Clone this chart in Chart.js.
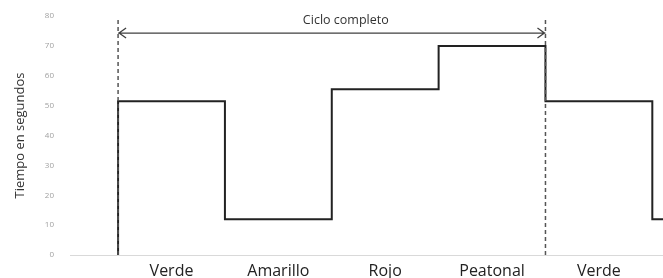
<!DOCTYPE html>
<html>
<head>
<meta charset="utf-8">
<script src="https://cdn.jsdelivr.net/npm/chart.js@4/dist/chart.umd.min.js"></script>
<style>
  html, body { margin: 0; padding: 0; background: #fff; }
  #wrap { width: 663px; height: 278px; }
</style>
</head>
<body>
<div id="wrap"><canvas id="ctx"></canvas></div>
<script>
// fases del ciclo y tiempo de cada una (s)
const phases = ["Verde", "Amarillo", "Rojo", "Peatonal", "Verde"];
const times = [51.5, 12, 55.5, 70, 51.5];
const nextTime = 12; // fase siguiente (Amarillo), cortada en el borde
const yTicks = [0, 10, 20, 30, 40, 50, 60, 70, 80];

// posiciones del ciclo en el eje x (índice de fase)
const cycleStart = 0;
const cycleEnd = 4;
const xMin = -0.45;
const xMax = 5.1;
const arrowLevel = 74.3;
const dashTop = 79.5;

const stepData = [{ x: 0, y: 0 }];
times.forEach((t, i) => stepData.push({ x: i, y: t }));
stepData.push({ x: times.length, y: nextTime });
stepData.push({ x: xMax, y: nextTime });

const FONT = "'Open Sans', Lato, sans-serif";

const cyclePlugin = {
  id: "cycle",
  afterDatasetsDraw(chart) {
    const { ctx, scales } = chart;
    const x0 = scales.x.getPixelForValue(cycleStart);
    const x1 = scales.x.getPixelForValue(cycleEnd);
    const y = scales.y.getPixelForValue(arrowLevel);
    ctx.save();
    ctx.strokeStyle = "#404040";
    ctx.lineWidth = 1.3;
    ctx.beginPath();
    ctx.moveTo(x0, y);
    ctx.lineTo(x1, y);
    // puntas
    ctx.moveTo(x0 + 8, y - 5);
    ctx.lineTo(x0 + 1, y);
    ctx.lineTo(x0 + 8, y + 5);
    ctx.moveTo(x1 - 8, y - 5);
    ctx.lineTo(x1 - 1, y);
    ctx.lineTo(x1 - 8, y + 5);
    ctx.stroke();
    ctx.fillStyle = "#333";
    ctx.font = "12.5px " + FONT;
    ctx.textAlign = "center";
    ctx.textBaseline = "middle";
    ctx.fillText("Ciclo completo", (x0 + x1) / 2 + 14, y - 13);
    ctx.restore();
  },
};

const dashed = (xv) => ({
  data: [{ x: xv, y: 0 }, { x: xv, y: dashTop }],
  borderColor: "#555",
  borderWidth: 1.5,
  borderDash: [4, 3],
  pointRadius: 0,
  fill: false,
});

new Chart(document.getElementById("ctx"), {
  type: "line",
  data: {
    datasets: [
      dashed(cycleStart),
      dashed(cycleEnd),
      {
        data: stepData,
        stepped: "before",
        borderColor: "#222",
        borderWidth: 2,
        pointRadius: 0,
        fill: false,
      },
    ],
  },
  options: {
    responsive: true,
    maintainAspectRatio: false,
    animation: false,
    layout: { padding: { top: 16, right: 0, left: 0, bottom: 0 } },
    plugins: { legend: { display: false }, tooltip: { enabled: false } },
    scales: {
      x: {
        type: "linear",
        min: xMin,
        max: xMax,
        grid: { display: false },
        border: { display: true, color: "#d9d9d9", width: 1 },
        afterBuildTicks: (scale) => {
          scale.ticks = phases.map((p, i) => ({ value: i + 0.5 }));
        },
        afterFit: (scale) => { scale.height = 23; },
        ticks: {
          autoSkip: false,
          maxRotation: 0,
          padding: -1,
          color: "#222",
          font: { family: FONT, size: 16 },
          callback: (v, i) => phases[i],
        },
      },
      y: {
        min: 0,
        max: 80,
        grid: { display: false },
        border: { display: false },
        afterBuildTicks: (scale) => {
          scale.ticks = yTicks.map((v) => ({ value: v }));
        },
        afterFit: (scale) => { scale.width = 70; },
        ticks: {
          padding: 8,
          color: "#a0a0a0",
          font: { family: FONT, size: 8 },
        },
        title: {
          display: true,
          text: "Tiempo en segundos",
          color: "#333",
          font: { family: FONT, size: 13 },
          padding: { top: 12, bottom: 0 },
        },
      },
    },
  },
  plugins: [cyclePlugin],
});
</script>
</body>
</html>
